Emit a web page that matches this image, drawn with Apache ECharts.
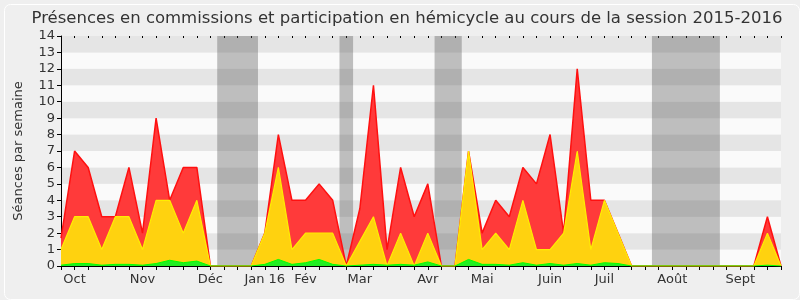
<!DOCTYPE html>
<html>
<head>
<meta charset="utf-8">
<script src="https://cdn.jsdelivr.net/npm/echarts@6/dist/echarts.min.js"></script>
<style>html,body{margin:0;padding:0;background:#efefef;}#c{width:800px;height:300px;}</style>
</head>
<body>
<div id="c"></div>
<script>
// Week indices 0..53 of the session
var weeks = [];
for (var w = 0; w < 54; w++) weeks.push(String(w));

// Month tick labels, by week index
var monthLabelWeeks = [1, 6, 11, 15, 18, 22, 27, 31, 36, 40, 45, 50];
var monthLabels = ['Oct', 'Nov', 'Déc', 'Jan 16', 'Fév', 'Mar', 'Avr', 'Mai', 'Juin', 'Juil', 'Août', 'Sept'];

// Vacation weeks (grey bands)
var vacationWeeks = [12, 13, 14, 21, 28, 29, 44, 45, 46, 47, 48];

// Series values
var redValues = [1.7, 7, 6, 3, 3, 6, 2, 9, 4, 6, 6, 0, 0, 0, 0, 2, 8, 4, 4, 5, 4, 0, 3.5, 11, 1, 6, 3, 5, 0, 0, 7, 2, 4, 3, 6, 5, 8, 2, 12, 4, 4, 2, 0, 0, 0, 0, 0, 0, 0, 0, 0, 0, 3, 0];
var yellowValues = [1, 3, 3, 1, 3, 3, 1, 4, 4, 2, 4, 0, 0, 0, 0, 2, 6, 1, 2, 2, 2, 0, 1.5, 3, 0, 2, 0, 2, 0, 0, 7, 1, 2, 1, 4, 1, 1, 2, 7, 1, 4, 2, 0, 0, 0, 0, 0, 0, 0, 0, 0, 0, 2, 0];
var greenValues = [0.05, 0.15, 0.15, 0.05, 0.1, 0.1, 0.05, 0.15, 0.35, 0.2, 0.3, 0, 0, 0, 0, 0.1, 0.4, 0.1, 0.2, 0.4, 0.1, 0, 0.05, 0.1, 0.05, 0.1, 0.05, 0.25, 0, 0, 0.4, 0.1, 0.1, 0.05, 0.2, 0.05, 0.15, 0.05, 0.15, 0.05, 0.2, 0.15, 0, 0, 0, 0, 0, 0, 0, 0, 0, 0, 0.05, 0];

var labelMap = {};
monthLabelWeeks.forEach(function (w, i) { labelMap[w] = monthLabels[i]; });

// group consecutive vacation weeks into bands
var bands = [];
vacationWeeks.forEach(function (w) {
  var last = bands[bands.length - 1];
  if (last && last[1] === w - 1) last[1] = w; else bands.push([w, w]);
});
var markAreaData = bands.map(function (b) {
  return [{ xAxis: b[0] - 0.5 }, { xAxis: b[1] + 0.5 }];
});

var font = 'DejaVu Sans';
var chart = echarts.init(document.getElementById('c'));
chart.setOption({
  backgroundColor: '#efefef',
  animation: false,
  title: {
    text: 'Présences en commissions et participation en hémicycle au cours de la session 2015-2016',
    left: 402, top: 5, textAlign: 'center',
    textStyle: { fontFamily: font, fontSize: 16.5, fontWeight: 'normal', color: '#333' }
  },
  graphic: [{
    type: 'rect', left: 2, top: 2, silent: true,
    shape: { width: 795, height: 295, r: 6 },
    style: { fill: 'none', stroke: '#ffffff', lineWidth: 1 }
  }],
  grid: { left: 61, right: 19, top: 36, bottom: 34 },
  xAxis: [{
    type: 'category', data: weeks, boundaryGap: false,
    axisLine: { lineStyle: { color: '#000', width: 1 } },
    axisTick: { interval: 0, length: 4, lineStyle: { color: '#000' } },
    axisLabel: {
      interval: 0, fontFamily: font, fontSize: 13, color: '#333', margin: 7,
      formatter: function (v, i) { return labelMap[i] || ''; }
    },
    splitLine: { show: false }
  }, {
    type: 'category', data: weeks, boundaryGap: false, position: 'top',
    axisLine: { show: false },
    axisTick: { interval: 0, inside: true, length: 2, lineStyle: { color: '#000' } },
    axisLabel: { show: false }
  }, {
    type: 'value', min: 0, max: 53, show: false
  }],
  yAxis: {
    type: 'value', min: 0, max: 14, interval: 1,
    name: 'Séances par semaine', nameLocation: 'middle', nameGap: 36,
    nameTextStyle: { fontFamily: font, fontSize: 13, color: '#333' },
    axisLine: { show: true, lineStyle: { color: '#000', width: 1 } },
    axisTick: { show: true, length: 4, lineStyle: { color: '#000' } },
    axisLabel: { fontFamily: font, fontSize: 13, color: '#333', margin: 6 },
    splitLine: { show: false },
    splitArea: { show: true, areaStyle: { color: ['#fafafa', '#e5e5e5'] } }
  },
  series: [{
    type: 'line', xAxisIndex: 2, data: [[0, 0]], symbol: 'none', silent: true, z: 1,
    lineStyle: { width: 0, opacity: 0 },
    markArea: { silent: true, itemStyle: { color: 'rgba(70,70,70,0.33)' }, data: markAreaData }
  }, {
    type: 'line', data: redValues, symbol: 'none', z: 2,
    lineStyle: { color: '#ff1010', width: 1.5 },
    areaStyle: { color: '#ff3a3a', opacity: 1 }
  }, {
    type: 'line', data: yellowValues, symbol: 'none', z: 3,
    lineStyle: { color: '#ffee00', width: 1.2 },
    areaStyle: { color: '#ffd20f', opacity: 1 }
  }, {
    type: 'line', data: greenValues, symbol: 'none', z: 4,
    lineStyle: { color: '#00ff00', width: 1 },
    areaStyle: { color: '#22ee22', opacity: 1 }
  }]
});
</script>
</body>
</html>
